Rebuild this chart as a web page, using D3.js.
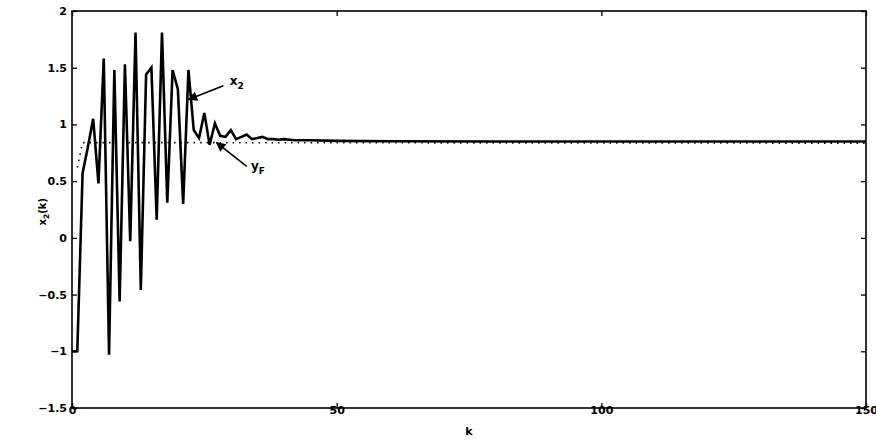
<!DOCTYPE html>
<html>
<head>
<meta charset="utf-8">
<script src="https://cdn.jsdelivr.net/npm/d3@7"></script>
<style>
  body { margin: 0; background: #fff; }
  text { font-family: "DejaVu Sans", "Liberation Sans", Arial, sans-serif; font-weight: bold; fill: #000; }
</style>
</head>
<body>
<svg id="chart" width="876" height="441"></svg>
<script>
// Sample index k and the state x2(k): transient oscillation, then settling
const kSteps = [0, 1, 2, 3, 4, 5, 6, 7, 8, 9, 10, 11, 12, 13, 14, 15, 16, 17, 18, 19,
  20, 21, 22, 23, 24, 25, 26, 27, 28, 29, 30, 31, 32, 33, 34, 35, 36, 37, 38, 39,
  40, 42, 45, 50, 60, 80, 100, 120, 150];
const x2Values = [-1.0, -1.0, 0.57, 0.80, 1.05, 0.48, 1.58, -1.03, 1.48, -0.56, 1.53, -0.03, 1.81, -0.46, 1.44, 1.50, 0.16, 1.81, 0.31, 1.48,
  1.31, 0.30, 1.48, 0.95, 0.88, 1.10, 0.82, 1.01, 0.90, 0.89, 0.95, 0.87, 0.89, 0.91, 0.87, 0.88, 0.89, 0.87, 0.87, 0.865,
  0.87, 0.86, 0.86, 0.855, 0.852, 0.85, 0.85, 0.85, 0.85];

// Filtered reference y_F
const yFSteps = [1, 2, 150];
const yFValues = [0.62, 0.84, 0.835];

// Axis ticks
const xTicks = [0, 50, 100, 150];
const yTicks = [-1.5, -1, -0.5, 0, 0.5, 1, 1.5, 2];

const svg = d3.select("#chart");
const plotL = 72, plotR = 866, plotT = 11, plotB = 408;

const x = d3.scaleLinear().domain([0, 150]).range([plotL, plotR]);
const y = d3.scaleLinear().domain([-1.5, 2]).range([plotB, plotT]);

const fmt = v => String(v).replace("-", "\u2212");
const tickFont = "'DejaVu Sans', 'Liberation Sans', Arial, sans-serif";

// Frame
svg.append("rect")
  .attr("x", plotL).attr("y", plotT)
  .attr("width", plotR - plotL).attr("height", plotB - plotT)
  .attr("fill", "none").attr("stroke", "#000").attr("stroke-width", 1.6);

// Axes with inward ticks
const axB = svg.append("g").attr("transform", `translate(0,${plotB})`)
  .call(d3.axisBottom(x).tickValues(xTicks).tickSize(-5).tickPadding(3).tickFormat(fmt));
const axT = svg.append("g").attr("transform", `translate(0,${plotT})`)
  .call(d3.axisTop(x).tickValues(xTicks).tickSize(-5).tickFormat(""));
const axL = svg.append("g").attr("transform", `translate(${plotL},0)`)
  .call(d3.axisLeft(y).tickValues(yTicks).tickSize(-5).tickPadding(5).tickFormat(fmt));
const axR = svg.append("g").attr("transform", `translate(${plotR},0)`)
  .call(d3.axisRight(y).tickValues(yTicks).tickSize(-5).tickFormat(""));

[axB, axT, axL, axR].forEach(g => {
  g.select(".domain").remove();
  g.selectAll(".tick line").attr("stroke", "#000").attr("stroke-width", 1.3);
  g.selectAll("text").attr("font-size", 11).attr("font-weight", "bold")
    .attr("font-family", tickFont).attr("fill", "#000");
});
axB.selectAll("text").attr("dy", "0.3em");

// Series
const line = d3.line().x(d => x(d[0])).y(d => y(d[1]));

svg.append("path")
  .datum(d3.zip(yFSteps, yFValues))
  .attr("d", line)
  .attr("fill", "none").attr("stroke", "#000")
  .attr("stroke-width", 1.6).attr("stroke-dasharray", "1.5,5");

svg.append("path")
  .datum(d3.zip(kSteps, x2Values))
  .attr("d", line)
  .attr("fill", "none").attr("stroke", "#000")
  .attr("stroke-width", 2.6).attr("stroke-linejoin", "miter").attr("stroke-miterlimit", 4);

// Axis titles
svg.append("text").attr("x", x(75)).attr("y", 435)
  .attr("text-anchor", "middle").attr("font-size", 11).text("k");

const yl = svg.append("text")
  .attr("transform", `translate(46,${y(0.23)}) rotate(-90)`)
  .attr("text-anchor", "middle").attr("font-size", 10);
yl.append("tspan").text("x");
yl.append("tspan").attr("font-size", 7.5).attr("dy", 3).text("2");
yl.append("tspan").attr("dy", -3).text("(k)");

// Annotations with arrows
svg.append("defs").append("marker")
  .attr("id", "head").attr("viewBox", "0 0 10 10")
  .attr("refX", 9).attr("refY", 5)
  .attr("markerWidth", 8).attr("markerHeight", 6)
  .attr("orient", "auto-start-reverse")
  .append("path").attr("d", "M0,0 L10,5 L0,10 z").attr("fill", "#000");

function note(xText, yText, xTip, yTip, x0, y0, main, sub) {
  svg.append("line")
    .attr("x1", x(x0)).attr("y1", y(y0))
    .attr("x2", x(xTip)).attr("y2", y(yTip))
    .attr("stroke", "#000").attr("stroke-width", 1.6)
    .attr("marker-end", "url(#head)");
  const t = svg.append("text").attr("x", x(xText)).attr("y", y(yText)).attr("font-size", 12);
  t.append("tspan").text(main);
  t.append("tspan").attr("font-size", 9).attr("dy", 4).text(sub);
}

note(29.8, 1.35, 22.0, 1.22, 28.6, 1.34, "x", "2");
note(33.8, 0.60, 27.3, 0.84, 33.0, 0.63, "y", "F");
</script>
</body>
</html>
